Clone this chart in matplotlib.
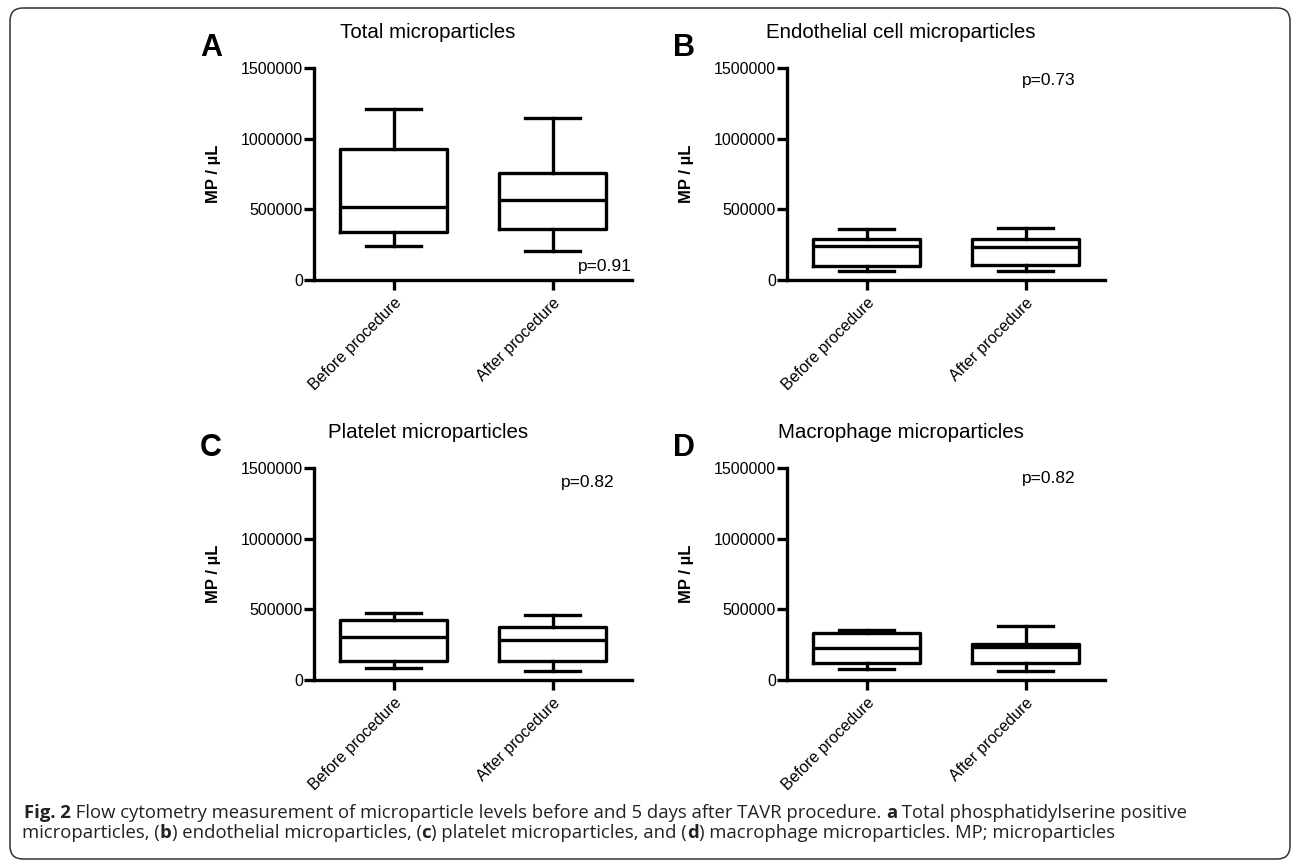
import matplotlib
matplotlib.use("Agg")
import matplotlib.pyplot as plt
from matplotlib.patches import FancyBboxPatch

plt.rcParams['font.family'] = ['Liberation Sans', 'DejaVu Sans']

# values (MP / uL)
groups = ['Before procedure', 'After procedure']
panel_letters = ['A', 'B', 'C', 'D']
panel_titles = ['Total microparticles', 'Endothelial cell microparticles',
                'Platelet microparticles', 'Macrophage microparticles']
p_values = ['p=0.91', 'p=0.73', 'p=0.82', 'p=0.82']

# each row: [whisker low, Q1, median, Q3, whisker high] for before / after
total_mp = [[243000, 337000, 514000, 927000, 1210000],
            [205000, 359000, 566000, 755000, 1144000]]
endothelial_mp = [[64000, 99000, 243000, 292000, 363000],
                  [64000, 108000, 236000, 288000, 370000]]
platelet_mp = [[83000, 137000, 302000, 422000, 472000],
               [66000, 137000, 283000, 377000, 462000]]
macrophage_mp = [[78000, 123000, 229000, 335000, 351000],
                 [66000, 120000, 236000, 257000, 382000]]
panel_data = [total_mp, endothelial_mp, platelet_mp, macrophage_mp]

y_ticks = [0, 500000, 1000000, 1500000]

W, H = 1292, 860
fig = plt.figure(figsize=(W / 100, H / 100), dpi=100)

# outer rounded frame (inches so the corners stay round)
frame = FancyBboxPatch((0.10, 0.01), 12.80, 8.51, boxstyle="round,pad=0,rounding_size=0.13",
                       transform=fig.dpi_scale_trans, fill=False, lw=1.1, ec='#333333')
fig.patches.append(frame)

# axes placement in pixels: left, zero line y
lefts = [314, 787, 314, 787]
zeros = [280, 280, 680, 680]
ax_w, ax_h = 318, 212

# p-value text positions (pixel x, y, ha)
p_pos = [(632, 267, 'right'), (1049, 80, 'center'), (588, 483, 'center'), (1049, 479, 'center')]

lw = 2.4
for i in range(4):
    left, zero = lefts[i], zeros[i]
    ax = fig.add_axes([left / W, 1 - zero / H, ax_w / W, ax_h / H])
    stats = []
    for g, vals in zip(groups, panel_data[i]):
        stats.append({'label': g, 'whislo': vals[0], 'q1': vals[1], 'med': vals[2],
                      'q3': vals[3], 'whishi': vals[4], 'fliers': []})
    ax.bxp(stats, positions=[1, 2], widths=0.67, capwidths=0.34, showfliers=False,
           boxprops=dict(color='black', lw=lw),
           whiskerprops=dict(color='black', lw=lw),
           capprops=dict(color='black', lw=lw),
           medianprops=dict(color='black', lw=lw))
    ax.set_xlim(0.5, 2.5)
    ax.set_ylim(0, 1500000)
    ax.set_yticks(y_ticks)
    ax.set_yticklabels([str(v) for v in y_ticks], fontsize=11.5)
    ax.set_xticks([1, 2])
    ax.set_xticklabels(groups, rotation=45, ha='right', rotation_mode='anchor', fontsize=11.5)
    ax.spines['top'].set_visible(False)
    ax.spines['right'].set_visible(False)
    ax.spines['left'].set_linewidth(lw)
    ax.spines['bottom'].set_linewidth(lw)
    ax.tick_params(axis='both', width=lw, length=7, pad=1, colors='black')
    ax.tick_params(axis='x', pad=4)
    ax.set_ylabel('MP / µL', fontsize=12, fontweight='bold', labelpad=14)
    ax.patch.set_visible(False)

    # panel letter and title
    fig.text((left - 103) / W, 1 - (zero - 232) / H, panel_letters[i], fontsize=22,
             fontweight='bold', ha='center', va='center')
    fig.text((left + 114) / W, 1 - (zero - 247) / H, panel_titles[i], fontsize=14.8,
             ha='center', va='center')
    px, py, pha = p_pos[i]
    fig.text(px / W, 1 - py / H, p_values[i], fontsize=12.5, ha=pha, va='center')

# caption with bold fragments
cap_family = ['Open Sans', 'DejaVu Sans']
cap_size = 13.3
renderer = fig.canvas.get_renderer()


def rich_line(x_px, y_px, pieces):
    x = x_px
    for txt, weight in pieces:
        t = fig.text(x / W, 1 - y_px / H, txt, fontsize=cap_size, fontweight=weight,
                     family=cap_family, ha='left', va='center', color='#222222')
        x += t.get_window_extent(renderer).width


rich_line(24, 813, [('Fig. 2', 'bold'),
                    (' Flow cytometry measurement of microparticle levels before and 5 days after TAVR procedure. ', 'normal'),
                    ('a', 'bold'),
                    (' Total phosphatidylserine positive', 'normal')])
rich_line(22, 833, [('microparticles, (', 'normal'), ('b', 'bold'),
                    (') endothelial microparticles, (', 'normal'), ('c', 'bold'),
                    (') platelet microparticles, and (', 'normal'), ('d', 'bold'),
                    (') macrophage microparticles. MP; microparticles', 'normal')])

fig.savefig('out.png', dpi=100)
